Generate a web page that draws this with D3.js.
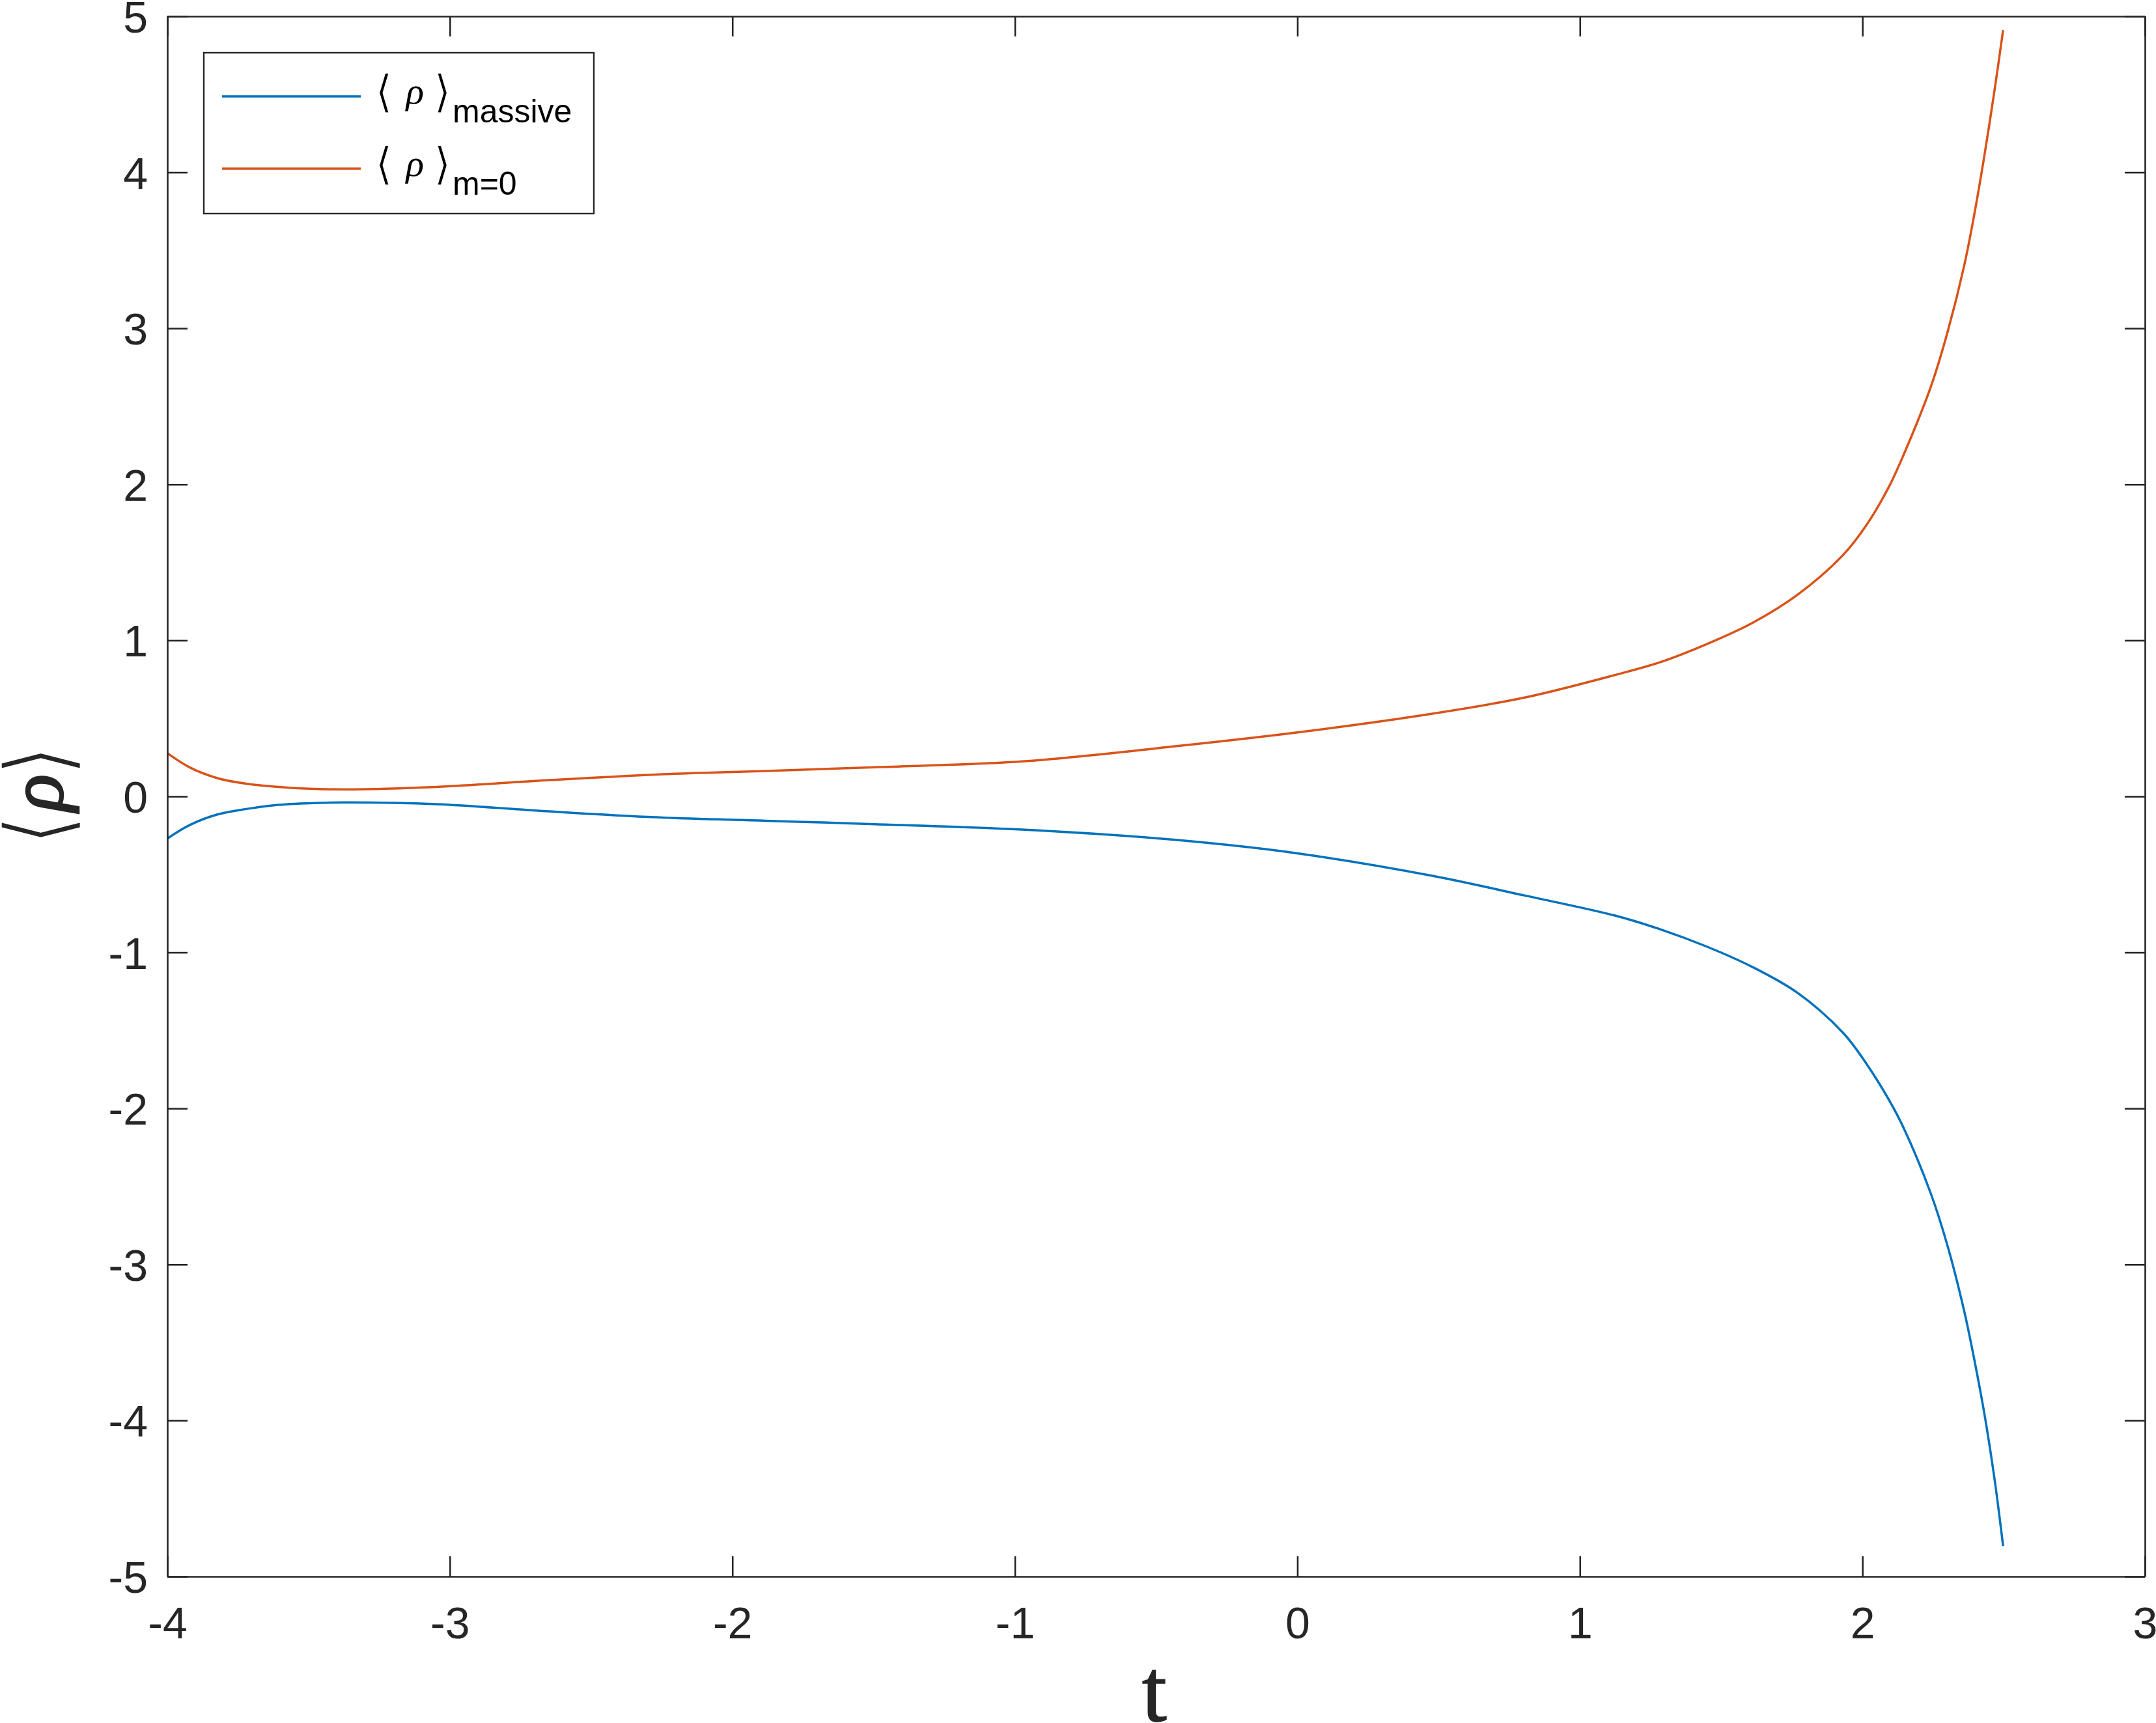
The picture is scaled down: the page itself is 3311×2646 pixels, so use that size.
<!DOCTYPE html>
<html>
<head>
<meta charset="utf-8">
<script src="https://cdn.jsdelivr.net/npm/d3@7"></script>
<style>
  html, body { margin: 0; padding: 0; background: #fff; }
  svg { display: block; }
</style>
</head>
<body>
<div id="chart"></div>
<script>
// values
const tValues = [-4.0, -3.919, -3.823, -3.725, -3.629, -3.512, -3.375, -3.046, -2.659, -2.27,
                 -1.88, -1.495, -0.974, -0.438, 0.0, 0.478, 0.801, 1.124, 1.286, 1.448,
                 1.610, 1.771, 1.933, 2.014, 2.094, 2.146, 2.243, 2.302, 2.36, 2.395,
                 2.432, 2.468, 2.498];
const rhoMassive = [-0.27, -0.182, -0.116, -0.082, -0.058, -0.045, -0.039, -0.05, -0.095, -0.134,
                    -0.156, -0.178, -0.213, -0.278, -0.365, -0.509, -0.634, -0.764, -0.853, -0.962,
                    -1.093, -1.26, -1.518, -1.713, -1.945, -2.125, -2.55, -2.885, -3.297, -3.6,
                    -3.96, -4.38, -4.805];
const rhoMassless = [0.277, 0.184, 0.117, 0.082, 0.064, 0.05, 0.045, 0.061, 0.103, 0.14,
                     0.163, 0.187, 0.224, 0.32, 0.41, 0.53, 0.632, 0.778, 0.861, 0.975,
                     1.111, 1.293, 1.55, 1.738, 1.985, 2.19, 2.63, 2.98, 3.40, 3.72,
                     4.11, 4.53, 4.911];
const xTicks = [-4, -3, -2, -1, 0, 1, 2, 3];
const yTicks = [-5, -4, -3, -2, -1, 0, 1, 2, 3, 4, 5];
const seriesNames = ["massive", "m=0"];
const seriesColors = ["#0072BD", "#D95319"];

const W = 3311, H = 2646;
const box = {left: 257, right: 3294, top: 25, bottom: 2421};
const axisColor = "#262626";
const tickLen = 31;

const svg = d3.select("#chart").append("svg")
    .attr("width", W)
    .attr("height", H);

const x = d3.scaleLinear().domain([-4, 3]).range([box.left, box.right]);
const y = d3.scaleLinear().domain([-5, 5]).range([box.bottom, box.top]);

// measure the ink of a glyph so tex-like symbols can be fitted to a box
const ctx = document.createElement("canvas").getContext("2d");
function ink(text, family, style) {
    ctx.font = `${style} 100px "${family}"`;
    const m = ctx.measureText(text);
    return {l: -m.actualBoundingBoxLeft, r: m.actualBoundingBoxRight,
            t: -m.actualBoundingBoxAscent, b: m.actualBoundingBoxDescent};
}

function fitGlyph(parent, ch, family, style, t, uniform, strokeW, strokeCol) {
    const b = ink(ch, family, style);
    let sx = (t.x1 - t.x0) / (b.r - b.l);
    const sy = (t.y1 - t.y0) / (b.b - b.t);
    let tx = t.x0 - b.l * sx;
    if (uniform) {
        sx = sy;
        tx = (t.x0 + t.x1) / 2 - (b.l + b.r) / 2 * sx;
    }
    const ty = t.y0 - b.t * sy;
    const el = parent.append("text")
        .attr("transform", `translate(${tx},${ty}) scale(${sx},${sy})`)
        .attr("font-family", family)
        .attr("font-style", style)
        .attr("font-size", 100)
        .text(ch);
    if (strokeW) {
        // white stroke thins the brackets, dark stroke makes rho heavier
        el.attr("stroke", strokeCol)
          .attr("stroke-width", strokeW)
          .attr("vector-effect", "non-scaling-stroke");
    }
    return el;
}

// curves
const line = d3.line()
    .x(d => x(d[0]))
    .y(d => y(d[1]))
    .curve(d3.curveCatmullRom.alpha(0.5));

[rhoMassive, rhoMassless].forEach((vals, i) => {
    svg.append("path")
        .datum(tValues.map((t, j) => [t, vals[j]]))
        .attr("d", line)
        .attr("fill", "none")
        .attr("stroke", seriesColors[i])
        .attr("stroke-width", 3.5);
});

// axes, ticks pointing inward on all four sides
function styleAxis(g) {
    g.selectAll("path.domain").attr("stroke", axisColor).attr("stroke-width", 2.6);
    g.selectAll(".tick line").attr("stroke", axisColor).attr("stroke-width", 2.6);
    g.selectAll(".tick text")
        .attr("fill", axisColor)
        .attr("font-family", "Liberation Sans, Arial, sans-serif")
        .attr("font-size", 68);
}

svg.append("g")
    .attr("transform", `translate(0,${box.bottom})`)
    .call(d3.axisBottom(x).tickValues(xTicks).tickFormat(d => String(d))
        .tickSizeInner(-tickLen).tickSizeOuter(0).tickPadding(0))
    .call(styleAxis)
    .call(g => g.selectAll(".tick text").attr("dy", null).attr("y", 95));

svg.append("g")
    .attr("transform", `translate(0,${box.top})`)
    .call(d3.axisTop(x).tickValues(xTicks).tickFormat("")
        .tickSizeInner(-tickLen).tickSizeOuter(0))
    .call(styleAxis);

svg.append("g")
    .attr("transform", `translate(${box.left},0)`)
    .call(d3.axisLeft(y).tickValues(yTicks).tickFormat(d => String(d))
        .tickSizeInner(-tickLen).tickSizeOuter(0).tickPadding(0))
    .call(styleAxis)
    .call(g => g.selectAll(".tick text").attr("x", -30).attr("dy", "0.36em"));

svg.append("g")
    .attr("transform", `translate(${box.right},0)`)
    .call(d3.axisRight(y).tickValues(yTicks).tickFormat("")
        .tickSizeInner(-tickLen).tickSizeOuter(0))
    .call(styleAxis);

// axis labels
const xLab = svg.append("g").attr("fill", axisColor);
fitGlyph(xLab, "t", "Liberation Serif", "normal", {x0: 1753, x1: 1793, y0: 2566, y1: 2644}, true, 1.5, axisColor);

// rotated frame: x' runs up the page from y=1288, y' runs to the right
const yLab = svg.append("g")
    .attr("transform", "translate(0,1288) rotate(-90)")
    .attr("fill", axisColor);
fitGlyph(yLab, "\u27E8", "DejaVu Sans", "normal", {x0: 0, x1: 26, y0: 1, y1: 125}, false, 2.5, "#fff");
fitGlyph(yLab, "\u03C1", "Liberation Serif", "italic", {x0: 38, x1: 96, y0: 40, y1: 121}, true, 2.5, axisColor);
fitGlyph(yLab, "\u27E9", "DejaVu Sans", "normal", {x0: 107, x1: 133, y0: 1, y1: 125}, false, 2.5, "#fff");

// legend
const legend = svg.append("g");
legend.append("rect")
    .attr("x", 313).attr("y", 81)
    .attr("width", 599).attr("height", 247)
    .attr("fill", "#fff")
    .attr("stroke", axisColor)
    .attr("stroke-width", 2.4);

seriesNames.forEach((name, i) => {
    const off = i * 111;
    const row = legend.append("g").attr("fill", "#000");
    row.append("line")
        .attr("x1", 341).attr("x2", 554)
        .attr("y1", 148 + off).attr("y2", 148 + off)
        .attr("stroke", seriesColors[i])
        .attr("stroke-width", 3.5);
    fitGlyph(row, "\u27E8", "DejaVu Sans", "normal", {x0: 582, x1: 597, y0: 112 + off, y1: 173 + off}, false, 1, "#fff");
    fitGlyph(row, "\u03C1", "Liberation Serif", "italic", {x0: 620, x1: 651, y0: 132 + off, y1: 171 + off}, true);
    fitGlyph(row, "\u27E9", "DejaVu Sans", "normal", {x0: 672, x1: 687, y0: 112 + off, y1: 173 + off}, false, 1, "#fff");
    row.append("text").attr("x", 695).attr("y", 188 + off)
        .attr("font-family", "Liberation Sans, Arial, sans-serif")
        .attr("font-size", 50).text(name);
});
</script>
</body>
</html>
